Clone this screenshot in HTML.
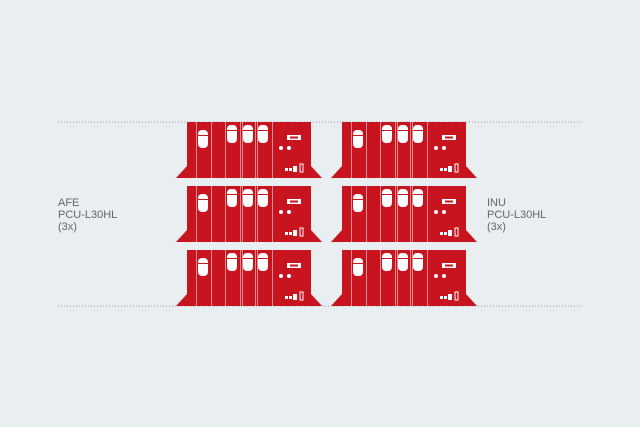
<!DOCTYPE html>
<html><head><style>
html,body{margin:0;padding:0;background:#e9eef1;}
svg{display:block}
</style></head><body>
<svg width="640" height="427" viewBox="0 0 640 427" xmlns="http://www.w3.org/2000/svg">
<defs>
<g id="u">
  <polygon points="-11,56 0,44 124,44 135,56" fill="#c8141e"/>
  <rect x="0" y="0" width="124" height="56" fill="#c8141e"/>
  <g stroke="#e88a90" stroke-width="1">
    <line x1="9.5" y1="0" x2="9.5" y2="56"/>
    <line x1="24.5" y1="0" x2="24.5" y2="56"/>
    <line x1="38.5" y1="0" x2="38.5" y2="56"/>
    <line x1="53.5" y1="0" x2="53.5" y2="56"/>
    <line x1="55.5" y1="0" x2="55.5" y2="56"/>
    <line x1="68.5" y1="0" x2="68.5" y2="56"/>
    <line x1="70.5" y1="0" x2="70.5" y2="56"/>
    <line x1="85.5" y1="0" x2="85.5" y2="56"/>
  </g>
  <g fill="#fff">
    <rect x="11" y="8" width="10" height="18" rx="4"/>
    <rect x="40" y="3" width="10" height="18" rx="4"/>
    <rect x="56" y="3" width="10" height="18" rx="4"/>
    <rect x="71" y="3" width="10" height="18" rx="4"/>
    <rect x="100" y="13" width="14" height="5"/>
    <circle cx="94" cy="26" r="2"/>
    <circle cx="102" cy="26" r="2"/>
    <rect x="98" y="46" width="3" height="3"/>
    <rect x="102" y="46" width="3" height="3"/>
    <rect x="106" y="44" width="4" height="6"/>
    <rect x="113" y="42" width="3" height="8" fill="none" stroke="#fff" stroke-width="1"/>
  </g>
  <g fill="#c8141e">
    <rect x="11" y="13" width="10" height="1"/>
    <rect x="40" y="8" width="10" height="1"/>
    <rect x="56" y="8" width="10" height="1"/>
    <rect x="71" y="8" width="10" height="1"/>
    <rect x="103" y="14.5" width="8" height="2"/>
  </g>
</g>
</defs>
<line x1="58" y1="122" x2="582" y2="122" stroke="#9aa0a4" stroke-dasharray="1,2"/>
<line x1="58" y1="306" x2="582" y2="306" stroke="#9aa0a4" stroke-dasharray="1,2"/>
<use href="#u" x="187" y="122"/>
<use href="#u" x="342" y="122"/>
<use href="#u" x="187" y="186"/>
<use href="#u" x="342" y="186"/>
<use href="#u" x="187" y="250"/>
<use href="#u" x="342" y="250"/>
<g font-family="Liberation Sans, sans-serif" font-size="11" fill="#666">
  <text x="58" y="206">AFE</text>
  <text x="58" y="218">PCU-L30HL</text>
  <text x="58" y="230">(3x)</text>
  <text x="487" y="206">INU</text>
  <text x="487" y="218">PCU-L30HL</text>
  <text x="487" y="230">(3x)</text>
</g>
</svg>
</body></html>
